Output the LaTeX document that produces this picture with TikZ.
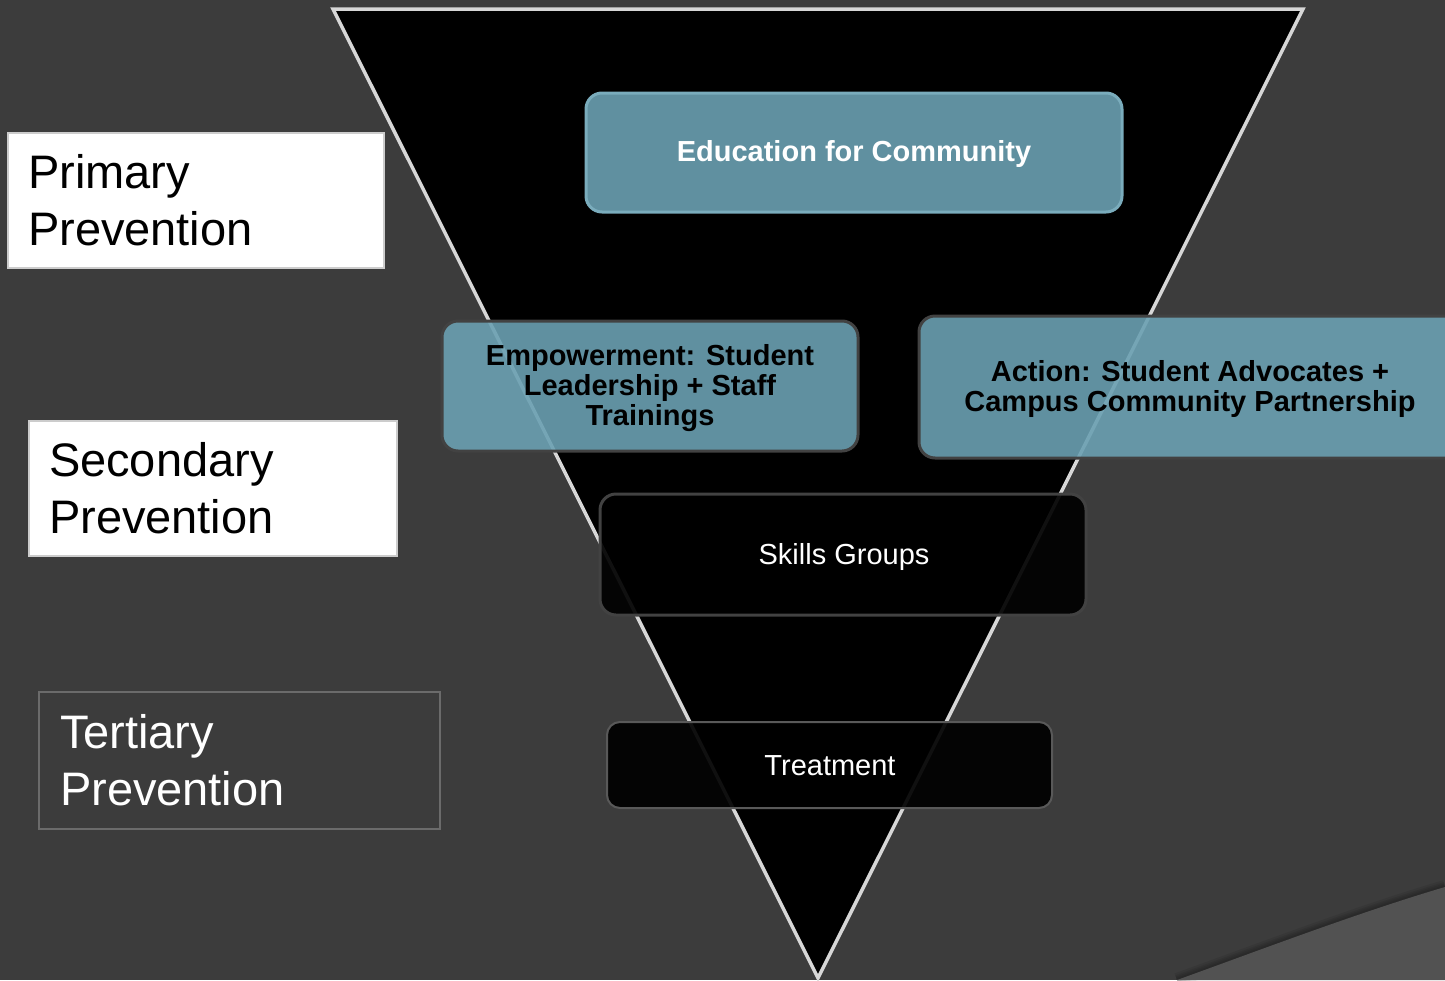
\documentclass[tikz,border=0pt]{standalone}
\usepackage{fontspec}
\setmainfont{Liberation Sans}
\definecolor{bgc}{RGB}{60,60,60}
\definecolor{bgl}{RGB}{82,82,82}
\definecolor{tri}{RGB}{215,215,215}
\definecolor{teal}{RGB}{107,160,178}
\definecolor{tealedge}{RGB}{122,172,188}
\definecolor{darkedge}{RGB}{66,66,66}
\tikzset{
  x=1pt,y=-1pt,
  levelbox/.style={rectangle, draw, line width=2pt, align=left, inner xsep=20pt,
    font=\fontsize{47}{57}\selectfont},
  bluebox/.style={rectangle, rounded corners=16pt, fill=teal, fill opacity=0.9,
    line width=3pt, inner sep=0pt},
  blackbox/.style={rectangle, rounded corners=16pt, fill=black, fill opacity=0.92,
    draw=darkedge, line width=3pt, inner sep=0pt},
  boldtext/.style={align=center, inner sep=0pt, font=\fontsize{29}{30}\selectfont\bfseries},
  plaintext/.style={align=center, inner sep=0pt, text=white, font=\fontsize{29}{30}\selectfont},
  swoosh/.style={black, opacity=0.08},
}
\begin{document}
\begin{tikzpicture}
\useasboundingbox (0,0) rectangle (1445,980);
\clip (0,0) rectangle (1445,980);
\fill[bgc] (0,0) rectangle (1445,980);
% soft shadow above the lower right swoosh
\foreach \w in {14,10,7,4}{
  \draw[swoosh, line width=\w pt] (1177,980) .. controls (1260,950) and (1360,912) .. (1445,887);
}
% lower right lighter swoosh
\fill[bgl] (1177,980) .. controls (1260,950) and (1360,912) .. (1445,887) -- (1445,980) -- cycle;
% inverted triangle
\coordinate (tl) at (333,9);
\coordinate (tr) at (1303,9);
\coordinate (bt) at (818,978);
\draw[fill=black, draw=tri, line width=3.5pt, line join=miter] (tl) -- (tr) -- (bt) -- cycle;

% level labels
\node[levelbox, fill=white, draw=black!20, text=black, minimum width=376pt, minimum height=135pt, text width=336pt]
  (prim) at (196,200.5) {Primary\\Prevention};
\node[levelbox, fill=white, draw=black!20, text=black, minimum width=368pt, minimum height=135pt, text width=328pt]
  (sec) at (213,488.5) {Secondary\\Prevention};
\node[levelbox, draw=gray!70!bgc, text=white, minimum width=401pt, minimum height=137pt, text width=359pt, inner xsep=21pt]
  (ter) at (239.5,760.5) {Tertiary\\Prevention};

% pyramid boxes
\node[bluebox, draw=tealedge, minimum width=536pt, minimum height=119pt] (edu) at (854,152.5) {};
\node[boldtext, text=white] (edut) at (854,154) {Education for Community};
\node[bluebox, draw=darkedge, minimum width=416pt, minimum height=130pt] (emp) at (650,386) {};
\node[boldtext, text=black] (empt) at (650,388) {Empowerment: Student\\Leadership + Staff\\Trainings};
\node[bluebox, draw=darkedge, minimum width=542pt, minimum height=142pt] (act) at (1190,387) {};
\node[boldtext, text=black] (actt) at (1190,389) {Action: Student Advocates +\\Campus Community Partnership};
\node[blackbox, minimum width=486pt, minimum height=121pt] (skl) at (843,554.5) {};
\node[plaintext] (sklt) at (844,557) {Skills Groups};
\node[blackbox, draw=bgc!85!white, line width=2pt, minimum width=445pt, minimum height=86pt, rounded corners=13pt] (trt) at (829.5,765) {};
\node[plaintext] (trtt) at (830,766) {Treatment};
\end{tikzpicture}
\end{document}
